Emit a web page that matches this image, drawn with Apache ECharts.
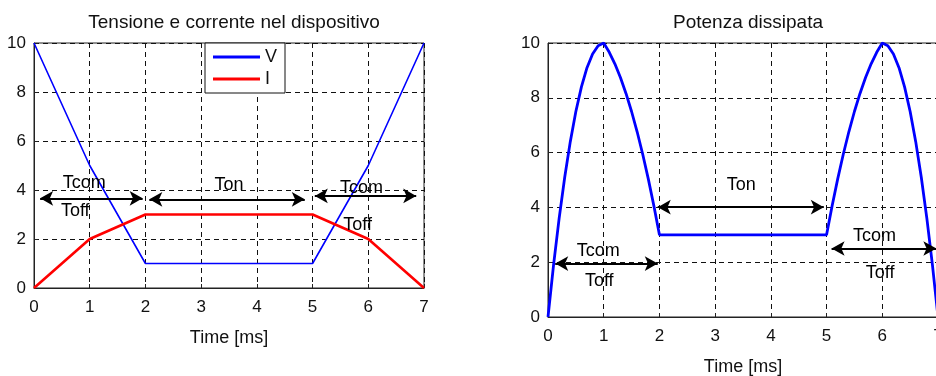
<!DOCTYPE html>
<html>
<head>
<meta charset="utf-8">
<script src="https://cdn.jsdelivr.net/npm/echarts@6/dist/echarts.min.js"></script>
<style>
  html, body { margin: 0; padding: 0; background: #fff; }
  #chart { width: 936px; height: 376px; }
</style>
</head>
<body>
<div id="chart"></div>
<script>
// tensione / corrente (left plot)
const timeVI = [0, 1, 2, 5, 6, 7]
const voltage = [10, 5, 1, 1, 5, 10]
const current = [0, 2, 3, 3, 2, 0]

// potenza dissipata (right plot), read every 0.1 ms on the ramps
const timeP = [
  0, 0.1, 0.2, 0.3, 0.4, 0.5, 0.6, 0.7, 0.8, 0.9, 1,
  1.1, 1.2, 1.3, 1.4, 1.5, 1.6, 1.7, 1.8, 1.9, 2,
  5, 5.1, 5.2, 5.3, 5.4, 5.5, 5.6, 5.7, 5.8, 5.9, 6,
  6.1, 6.2, 6.3, 6.4, 6.5, 6.6, 6.7, 6.8, 6.9, 7
]
const power = [
  0, 1.9, 3.6, 5.1, 6.4, 7.5, 8.4, 9.1, 9.6, 9.9, 10,
  9.66, 9.24, 8.74, 8.16, 7.5, 6.76, 5.94, 5.04, 4.06, 3,
  3, 4.06, 5.04, 5.94, 6.76, 7.5, 8.16, 8.74, 9.24, 9.66, 10,
  9.9, 9.6, 9.1, 8.4, 7.5, 6.4, 5.1, 3.6, 1.9, 0
]

const xTicks = [0, 1, 2, 3, 4, 5, 6, 7]
const yTicks = [0, 2, 4, 6, 8, 10]

// double arrows [x1, x2, y] and labels [x, y, text]
const arrowsVI = [[0.11, 1.95, 3.66], [2.07, 4.86, 3.62], [5.04, 6.86, 3.76]]
const labelsVI = [[0.9, 4.28, 'Tcom'], [0.74, 3.14, 'Toff'], [3.5, 4.2, 'Ton'], [5.88, 4.08, 'Tcom'], [5.81, 2.55, 'Toff']]
const arrowsP = [[0.13, 1.97, 1.95], [1.97, 4.95, 4.01], [5.09, 6.97, 2.5]]
const labelsP = [[0.9, 2.4, 'Tcom'], [0.92, 1.3, 'Toff'], [3.47, 4.8, 'Ton'], [5.86, 2.95, 'Tcom'], [5.96, 1.6, 'Toff']]

const FONT = '"Liberation Sans", Arial, sans-serif'
const TXT = '#111'

const myChart = echarts.init(document.getElementById('chart'), null, { renderer: 'canvas' })

const makeX = (gridIndex) => ({
  type: 'value',
  gridIndex,
  min: xTicks[0],
  max: xTicks[xTicks.length - 1],
  interval: 1,
  name: 'Time [ms]',
  nameLocation: 'middle',
  nameGap: 41,
  nameTextStyle: { color: TXT, fontFamily: FONT, fontSize: 18 },
  axisLine: { show: true, lineStyle: { color: '#222', width: 1 } },
  axisTick: { show: true, inside: true, length: 4, lineStyle: { color: '#222' } },
  axisLabel: { color: TXT, fontFamily: FONT, fontSize: 17, margin: 11, showMinLabel: true, showMaxLabel: true, hideOverlap: false },
  splitLine: { show: true, lineStyle: { color: '#111', type: [5, 4], width: 1 } }
})

const makeY = (gridIndex) => ({
  type: 'value',
  gridIndex,
  min: yTicks[0],
  max: yTicks[yTicks.length - 1],
  interval: 2,
  axisLine: { show: true, lineStyle: { color: '#222', width: 1 } },
  axisTick: { show: true, inside: true, length: 4, lineStyle: { color: '#222' } },
  axisLabel: { color: TXT, fontFamily: FONT, fontSize: 17, margin: 8 },
  splitLine: { show: true, lineStyle: { color: '#111', type: [5, 4], width: 1 } }
})

const arrowSeries = (idx, arrows, labels) => ({
  type: 'scatter',
  xAxisIndex: idx,
  yAxisIndex: idx,
  symbolSize: 0,
  itemStyle: { color: '#000', opacity: 1 },
  silent: true,
  z: 5,
  data: labels.map((l) => ({ value: [l[0], l[1]], name: l[2] })),
  label: {
    show: true,
    position: 'inside',
    formatter: '{b}',
    color: '#000',
    opacity: 1,
    textBorderWidth: 0,
    fontFamily: FONT,
    fontSize: 18
  },
  markLine: {
    silent: true,
    symbol: ['arrow', 'arrow'],
    symbolSize: [11, 13],
    label: { show: false },
    lineStyle: { color: '#000', width: 2.2, type: 'solid', opacity: 1 },
    emphasis: { disabled: true },
    data: arrows.map((a) => [{ coord: [a[0], a[2]] }, { coord: [a[1], a[2]] }])
  }
})

const option = {
  animation: false,
  backgroundColor: '#fff',
  title: [
    {
      text: 'Tensione e corrente nel dispositivo',
      left: 229,
      top: 8,
      textAlign: 'center',
      textStyle: { color: TXT, fontFamily: FONT, fontSize: 19, fontWeight: 'normal' }
    },
    {
      text: 'Potenza dissipata',
      left: 743,
      top: 8,
      textAlign: 'center',
      textStyle: { color: TXT, fontFamily: FONT, fontSize: 19, fontWeight: 'normal' }
    }
  ],
  legend: {
    data: ['V', 'I'],
    orient: 'vertical',
    left: 205,
    top: 43,
    icon: 'rect',
    itemWidth: 47,
    itemHeight: 3,
    itemGap: 4,
    padding: [5, 8, 5, 8],
    borderColor: '#111',
    borderWidth: 1,
    backgroundColor: '#fff',
    selectedMode: false,
    textStyle: { color: TXT, fontFamily: FONT, fontSize: 18 }
  },
  grid: [
    { left: 34, top: 43, width: 390, height: 245, show: true, borderColor: '#222', borderWidth: 1, backgroundColor: 'transparent', outerBoundsMode: 'none' },
    { left: 548, top: 43, width: 390, height: 274, show: true, borderColor: '#222', borderWidth: 1, backgroundColor: 'transparent', outerBoundsMode: 'none' }
  ],
  xAxis: [makeX(0), makeX(1)],
  yAxis: [makeY(0), makeY(1)],
  series: [
    {
      name: 'V',
      type: 'line',
      xAxisIndex: 0,
      yAxisIndex: 0,
      showSymbol: false,
      color: '#0000ff',
      lineStyle: { color: '#0000ff', width: 1.6 },
      data: timeVI.map((t, i) => [t, voltage[i]]),
      z: 3
    },
    {
      name: 'I',
      type: 'line',
      xAxisIndex: 0,
      yAxisIndex: 0,
      showSymbol: false,
      color: '#ff0000',
      lineStyle: { color: '#ff0000', width: 2.6 },
      data: timeVI.map((t, i) => [t, current[i]]),
      z: 3
    },
    {
      name: 'P',
      type: 'line',
      xAxisIndex: 1,
      yAxisIndex: 1,
      showSymbol: false,
      color: '#0000ff',
      lineStyle: { color: '#0000ff', width: 2.8 },
      data: timeP.map((t, i) => [t, power[i]]),
      z: 3
    },
    arrowSeries(0, arrowsVI, labelsVI),
    arrowSeries(1, arrowsP, labelsP)
  ]
}

myChart.setOption(option)
</script>
</body>
</html>
